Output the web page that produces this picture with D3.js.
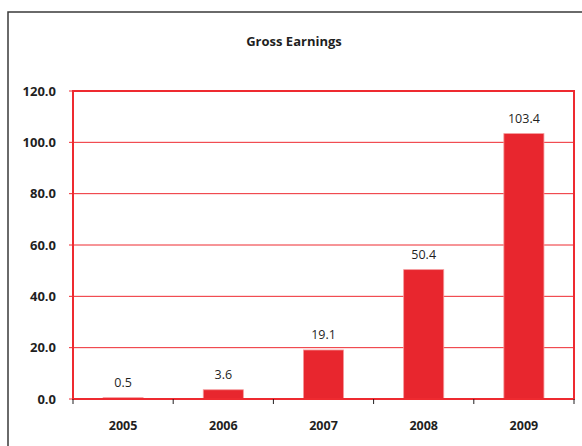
<!DOCTYPE html>
<html>
<head>
<meta charset="utf-8">
<script src="https://cdn.jsdelivr.net/npm/d3@7"></script>
<style>
  body { margin: 0; background: #fff; }
  text { font-family: "Open Sans", sans-serif; fill: #1f1f1f; }
</style>
</head>
<body>
<div id="chart"></div>
<script>
const years = ["2005", "2006", "2007", "2008", "2009"]
const earnings = [0.5, 3.6, 19.1, 50.4, 103.4]
const yTicks = [0, 20, 40, 60, 80, 100, 120]

const width = 582, height = 446
const margin = ({top: 91, right: 8, bottom: 47, left: 73})
const red = "#e8262e"

const svg = d3.select("#chart").append("svg")
    .attr("width", width)
    .attr("height", height)

// outer frame (runs off the right and bottom of the picture)
svg.append("rect")
    .attr("x", 8).attr("y", 12)
    .attr("width", width + 20).attr("height", height + 20)
    .attr("fill", "none")
    .attr("stroke", "#3a3a3a")
    .attr("stroke-width", 1.5)

svg.append("text")
    .attr("x", 294).attr("y", 46)
    .attr("text-anchor", "middle")
    .attr("font-size", 13)
    .attr("font-weight", "bold")
    .text("Gross Earnings")

const x = d3.scaleBand()
    .domain(years)
    .range([margin.left, width - margin.right])
    .paddingInner(0.6)
    .paddingOuter(0.3)

const y = d3.scaleLinear()
    .domain([0, 120])
    .range([height - margin.bottom, margin.top])

// gridlines
svg.append("g")
    .selectAll("line")
    .data(yTicks)
    .join("line")
    .attr("x1", margin.left - 4)
    .attr("x2", width - margin.right)
    .attr("y1", d => y(d))
    .attr("y2", d => y(d))
    .attr("stroke", "#ee2a30")
    .attr("stroke-width", 1)

// y labels
svg.append("g")
    .attr("text-anchor", "end")
    .attr("font-size", 13)
    .attr("font-weight", "bold")
    .selectAll("text")
    .data(yTicks)
    .join("text")
    .attr("x", 56)
    .attr("y", d => y(d))
    .attr("dy", "0.35em")
    .text(d => d.toFixed(1))

// bars
svg.append("g")
    .selectAll("rect")
    .data(earnings)
    .join("rect")
    .attr("x", (d, i) => x(years[i]))
    .attr("y", d => y(d))
    .attr("width", x.bandwidth())
    .attr("height", d => y(0) - y(d))
    .attr("fill", red)
    .attr("stroke", "#f59a9c")
    .attr("stroke-width", 0.8)

// value labels
svg.append("g")
    .attr("text-anchor", "middle")
    .attr("font-size", 12.5)
    .selectAll("text")
    .data(earnings)
    .join("text")
    .attr("x", (d, i) => x(years[i]) + x.bandwidth() / 2)
    .attr("y", d => y(d) - 11)
    .text(d => d.toFixed(1))

// plot border
svg.append("rect")
    .attr("x", margin.left)
    .attr("y", margin.top)
    .attr("width", width - margin.right - margin.left)
    .attr("height", height - margin.bottom - margin.top)
    .attr("fill", "none")
    .attr("stroke", "#ee2a30")
    .attr("stroke-width", 2)

// category ticks between bands
const step = x.step()
svg.append("g")
    .selectAll("line")
    .data(d3.range(years.length + 1))
    .join("line")
    .attr("x1", i => margin.left + i * step)
    .attr("x2", i => margin.left + i * step)
    .attr("y1", y(0))
    .attr("y2", y(0) + 5)
    .attr("stroke", "#231f20")
    .attr("stroke-width", 1)

svg.append("g")
    .attr("text-anchor", "middle")
    .attr("font-size", 12.5)
    .attr("font-weight", "bold")
    .selectAll("text")
    .data(years)
    .join("text")
    .attr("x", d => x(d) + x.bandwidth() / 2)
    .attr("y", 430)
    .text(d => d)
</script>
</body>
</html>
